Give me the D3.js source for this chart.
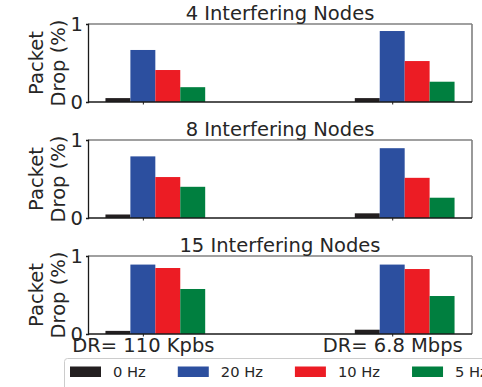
<!doctype html>
<html lang="en">
<head>
  <meta charset="utf-8">
  <title>Packet drop</title>
  <style>
    * { margin: 0; padding: 0; box-sizing: border-box; }
    body { background: #fff; }
    #chart { width: 482px; height: 387px; overflow: hidden; }
    text { font-family: "DejaVu Sans", sans-serif; fill: #262626; }
  </style>
</head>
<body>
  <div id="chart"></div>
  <script src="https://cdn.jsdelivr.net/npm/d3@7"></script>
  <script>
    // data rates on the x axis, one group each
    const rates = ['DR= 110 Kpbs', 'DR= 6.8 Mbps'];
    const freqs = ['0 Hz', '20 Hz', '10 Hz', '5 Hz'];
    const colors = ['#231f20', '#2c4f9f', '#ec1c24', '#007f3f'];
    const titles = ['4 Interfering Nodes', '8 Interfering Nodes', '15 Interfering Nodes'];

    // packet drop per frequency, [110 Kpbs, 6.8 Mbps]
    const nodes4 = [[0.05, 0.05], [0.667, 0.91], [0.41, 0.525], [0.19, 0.26]];
    const nodes8 = [[0.045, 0.06], [0.79, 0.895], [0.525, 0.515], [0.40, 0.26]];
    const nodes15 = [[0.04, 0.055], [0.89, 0.89], [0.846, 0.833], [0.577, 0.487]];
    const panels = [nodes4, nodes8, nodes15];

    const yTicks = [0, 1];

    const W = 482, H = 387;
    const left = 88, right = 472, top0 = 24, ph = 78, step = 116;
    const barW = 0.1;

    const svg = d3.select('#chart').append('svg')
      .attr('width', W).attr('height', H);

    const x = d3.scaleLinear().domain([-0.22, 1.32]).range([left, right]);

    panels.forEach((vals, p) => {
      const top = top0 + p * step, bottom = top + ph;
      const y = d3.scaleLinear().domain([0, 1]).range([bottom, top]);
      const g = svg.append('g');

      const bars = [];
      vals.forEach((pair, s) => pair.forEach((v, i) => bars.push({s, i, v})));

      g.selectAll('rect.bar').data(bars).enter().append('rect')
        .attr('class', 'bar')
        .attr('x', d => x(d.i + (d.s - 1) * barW - barW / 2))
        .attr('width', x(barW) - x(0))
        .attr('y', d => y(d.v))
        .attr('height', d => y(0) - y(d.v))
        .attr('fill', d => colors[d.s]);

      // frame: grey top/right, dark left/bottom
      g.append('line').attr('x1', left).attr('x2', right).attr('y1', top).attr('y2', top)
        .attr('stroke', '#808080').attr('stroke-width', 1.6);
      g.append('line').attr('x1', right).attr('x2', right).attr('y1', top).attr('y2', bottom)
        .attr('stroke', '#808080').attr('stroke-width', 1.6);

      const yAxis = d3.axisLeft(y).tickValues(yTicks).tickFormat(d3.format('d'))
        .tickSize(2).tickPadding(3);
      const ya = g.append('g').attr('transform', `translate(${left},0)`).call(yAxis);
      ya.select('.domain').attr('stroke', '#1a1a1a').attr('stroke-width', 1.3);
      ya.selectAll('.tick line').attr('stroke', '#1a1a1a');
      ya.selectAll('.tick text').style('font-size', '19.5px')
        .attr('font-family', null).attr('fill', '#262626');

      const xAxis = d3.axisBottom(x).tickValues([0, 1])
        .tickFormat((d, i) => p === 2 ? rates[i] : '')
        .tickSize(2.5).tickPadding(2);
      const xa = g.append('g').attr('transform', `translate(0,${bottom})`).call(xAxis);
      xa.select('.domain').attr('stroke', '#1a1a1a').attr('stroke-width', 1.3)
        .attr('d', `M${left},0H${right}`);
      xa.selectAll('.tick line').attr('stroke', '#1a1a1a');
      xa.selectAll('.tick text').style('font-size', '19.5px')
        .attr('font-family', null).attr('fill', '#262626');

      g.append('text')
        .attr('x', (left + right) / 2).attr('y', top - 4)
        .attr('text-anchor', 'middle')
        .style('font-size', '19.5px')
        .text(titles[p]);

      const lab = g.append('text')
        .attr('transform', `translate(43,${(top + bottom) / 2}) rotate(-90)`)
        .attr('text-anchor', 'middle')
        .style('font-size', '19.5px');
      lab.append('tspan').attr('x', 0).attr('y', 0).text('Packet');
      lab.append('tspan').attr('x', 0).attr('y', 22).text('Drop (%)');
    });

    // legend along the bottom, runs off the right edge
    const leg = svg.append('g');
    leg.append('rect')
      .attr('x', 64.5).attr('y', 358.5).attr('width', 440).attr('height', 60)
      .attr('rx', 3)
      .attr('fill', '#fff').attr('stroke', '#cccccc');
    let lx = 70;
    freqs.forEach((f, i) => {
      leg.append('rect')
        .attr('x', lx).attr('y', 366.5).attr('width', 31).attr('height', 10.5)
        .attr('fill', colors[i]);
      const t = leg.append('text')
        .attr('x', lx + 43).attr('y', 377)
        .style('font-size', '14.7px')
        .text(f);
      lx += 43 + t.node().getComputedTextLength() + 32;
    });
  </script>
</body>
</html>
